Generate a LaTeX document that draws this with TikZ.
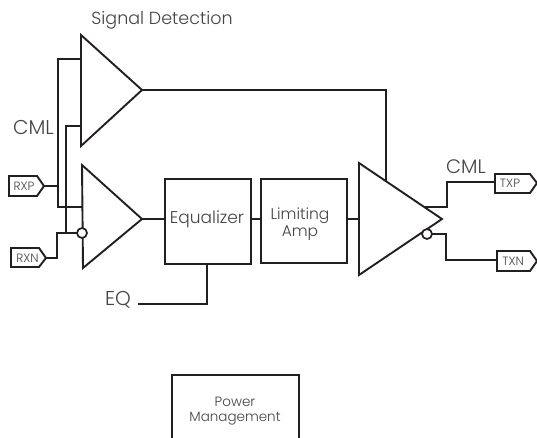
\documentclass[tikz,border=0pt]{standalone}
\usepackage{fontspec}
\setmainfont{Poppins Light}[]
\usetikzlibrary{calc}
\definecolor{ink}{HTML}{231F20}
\definecolor{txt}{HTML}{444444}
\tikzset{
  x=1pt,y=-1pt,
  wire/.style={draw=ink,line width=1.9pt,line join=miter},
  amp/.style={draw=ink,line width=1.9pt,line join=miter,fill=white},
  bubble/.style={circle,draw=ink,line width=1.7pt,fill=white,inner sep=0pt,minimum size=10pt},
  lab/.style={inner sep=0pt,text=txt,font=\fontsize{#1}{#1}\selectfont,align=center},
  tagtext/.style={inner sep=0pt,text=txt,font=\fontsize{12}{12}\selectfont}
}
\begin{document}
\begin{tikzpicture}
\useasboundingbox (0,0) rectangle (537,437);
\coordinate (a1t) at (81,35); \coordinate (a1b) at (81,146); \coordinate (a1o) at (142,90);
\coordinate (a2t) at (82,165); \coordinate (a2b) at (83,268); \coordinate (a2o) at (142,219);
\coordinate (a3t) at (359,163); \coordinate (a3b) at (359,275); \coordinate (a3o) at (442,219);
% wires
\draw[wire] (81,59) -- (58,59) -- (58,207) -- (82,207);
\draw[wire] (81,126) -- (66,126) -- (66,233);
\draw[wire] (44,186) -- (58,186);
\draw[wire] (46,258) -- (57,258) -- (57,233) -- (78,233);
\draw[wire] (a1o) -- (386,90) -- (386,182);
\draw[wire] (a2o) -- (165,219);
\draw[wire] (251,219) -- (261,219);
\draw[wire] (347,219) -- (a3t|-a3o);
\draw[wire] (424,207) -- (447,207) -- (447,182) -- (495,182);
\draw[wire] (432,234) -- (446,234) -- (446,260) -- (497,260);
\draw[wire] (207,264) -- (207,304) -- (138,304);
% amplifiers
\draw[amp] (a1t) -- (a1b) -- (a1o) -- cycle;
\draw[amp] (a2t) -- (a2b) -- (a2o) -- cycle;
\draw[amp] (a3t) -- (a3b) -- (a3o) -- cycle;
\node[bubble] (b1) at (82,233) {};
\node[bubble] (b2) at (427,234) {};
% blocks
\draw[amp] (165,179) rectangle (251,264);
\draw[amp] (261,179) rectangle (347,263);
\draw[amp] (172,375) rectangle (299,450);
\node[lab=17] (eq) at (207,219) {Equalizer};
\node[lab=15.5] (la) at (300,224) {Limiting\\[1pt]Amp};
\node[lab=13.5] (pm) at (235,411) {Power\\[1pt]Management};
% tags
\draw[amp] (9,176) -- (37,176) -- (44,186) -- (37,196) -- (9,196) -- cycle;
\draw[amp] (11,248) -- (39,248) -- (46,258) -- (39,267) -- (11,267) -- cycle;
\draw[amp] (495,174) -- (530,174) -- (537,183) -- (530,193) -- (495,193) -- cycle;
\draw[amp] (497,251) -- (530,251) -- (537,261) -- (530,271) -- (497,271) -- cycle;
\node[tagtext] (rxp) at (24,186) {RXP};
\node[tagtext] (rxn) at (27.5,258) {RXN};
\node[tagtext] (txp) at (510,183) {TXP};
\node[tagtext] (txn) at (513,261) {TXN};
% labels
\node[lab=17.5] (sd) at (162,20) {Signal Detection};
\node[lab=20] (c1) at (33.5,127) {CML};
\node[lab=19.5] (c2) at (466,167) {CML};
\node[lab=20] (eql) at (118,300) {EQ};
\end{tikzpicture}
\end{document}
